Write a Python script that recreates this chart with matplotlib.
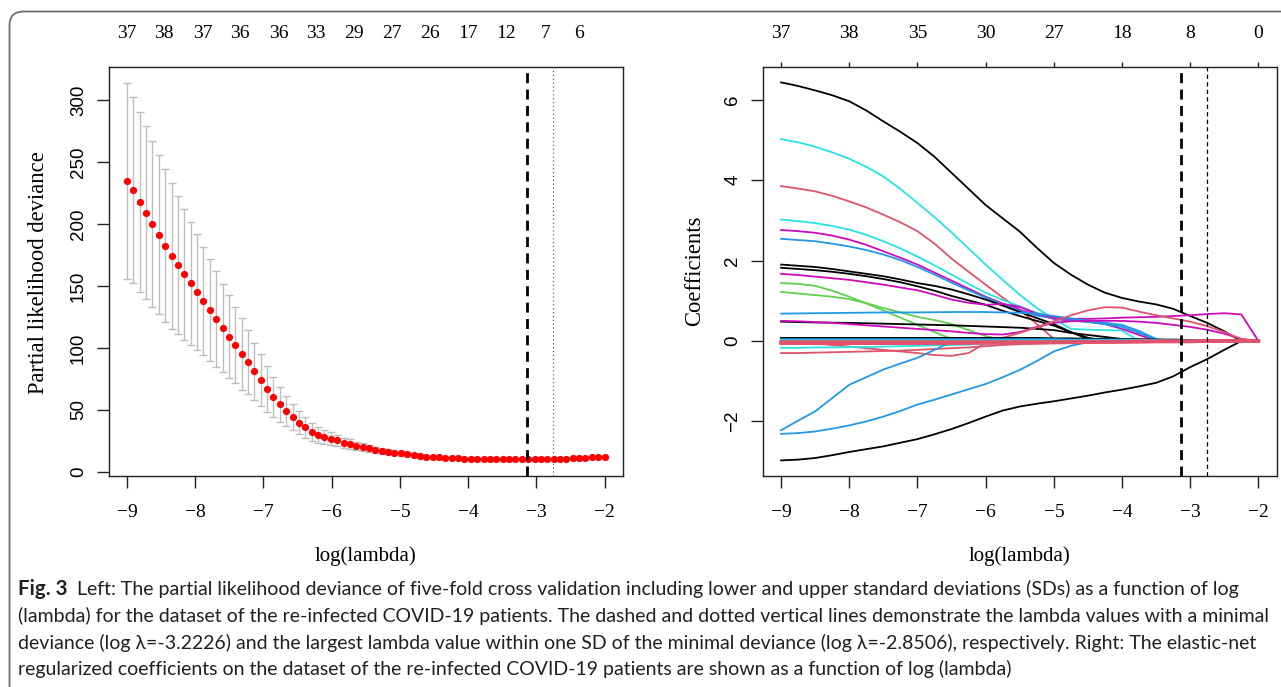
import numpy as np
import matplotlib
matplotlib.use("Agg")
import matplotlib.pyplot as plt
from matplotlib.patches import FancyBboxPatch
from matplotlib.transforms import IdentityTransform, blended_transform_factory

W, H = 1281, 687
SERIF = ['Liberation Serif', 'DejaVu Serif']
SANS = ['Liberation Sans', 'DejaVu Sans']
CAPF = ['Lato', 'DejaVu Sans']

# ---------------- data: left panel (cross-validation) ----------------
log_lambda = np.linspace(-9, -2, 76)
cv_mean = [234.9, 227.1, 218.0, 209.0, 200.2, 191.3, 182.4, 174.3, 166.8, 159.3,
           152.0, 145.0, 137.8, 130.5, 123.2, 116.0, 109.0, 102.3, 95.0, 88.5,
           81.3, 74.0, 67.0, 60.5, 54.4, 49.0, 44.1, 39.6, 35.8, 32.0,
           29.5, 27.8, 26.6, 25.3, 23.4, 22.4, 20.7, 19.9, 18.9, 17.8,
           17.0, 16.1, 15.3, 14.8, 14.0, 13.5, 12.7, 12.1, 11.8, 11.5,
           11.2, 11.0, 10.8, 10.6, 10.5, 10.4, 10.3, 10.2, 10.1, 10.0,
           10.0, 9.9, 9.9, 9.9, 9.9, 10.0, 10.1, 10.3, 10.5, 10.6,
           10.8, 11.0, 11.3, 11.5, 11.7, 11.9]
cv_sd = [79.0, 75.1, 72.6, 69.8, 67.0, 64.3, 61.9, 59.0, 55.7, 52.7,
         49.8, 47.1, 43.8, 41.4, 39.0, 35.7, 33.4, 30.6, 28.8, 25.9,
         23.0, 21.0, 18.5, 16.2, 14.0, 12.0, 10.5, 9.2, 8.2, 7.3,
         6.5, 5.8, 5.2, 4.6, 4.1, 3.7, 3.3, 3.0, 2.7, 2.5,
         2.3, 2.1, 1.9, 1.8, 1.6, 1.5, 1.4, 1.3, 1.2, 1.1,
         1.0, 1.0, 0.9, 0.9, 0.9, 0.8, 0.8, 0.8, 0.8, 0.8,
         0.8, 0.8, 0.8, 0.8, 0.8, 0.8, 0.8, 0.8, 0.8, 0.8,
         0.8, 0.8, 0.8, 0.8, 0.8, 0.8]
top_left_pos = [-9.0, -8.46, -7.89, -7.34, -6.78, -6.23, -5.68, -5.12, -4.56,
                -4.0, -3.44, -2.86, -2.38]
top_left_lab = ['37', '38', '37', '36', '36', '33', '29', '27', '26', '17', '12', '7', '6']
log_lambda_min = -3.13
log_lambda_1se = -2.75

# ---------------- data: right panel (coefficient paths) ----------------
path_x = [-9, -8.75, -8.5, -8.25, -8, -7.75, -7.5, -7.25, -7, -6.75, -6.5, -6.25, -6, -5.75,
          -5.5, -5.25, -5, -4.75, -4.5, -4.25, -4, -3.75, -3.5, -3.25, -3, -2.75, -2.5, -2.25, -2]
c01 = [6.43, 6.34, 6.23, 6.11, 5.96, 5.73, 5.46, 5.20, 4.92, 4.58, 4.18, 3.78, 3.38, 3.05,
       2.72, 2.32, 1.94, 1.65, 1.40, 1.20, 1.07, 0.98, 0.91, 0.80, 0.62, 0.45, 0.24, 0.0, 0.0]
c02 = [5.02, 4.94, 4.83, 4.69, 4.53, 4.33, 4.09, 3.78, 3.43, 3.08, 2.70, 2.30, 1.90, 1.52,
       1.15, 0.82, 0.55, 0.30, 0.28, 0.27, 0.26, 0.0, 0.0, 0.0, 0.0, 0.0, 0.0, 0.0, 0.0]
c03 = [3.85, 3.79, 3.72, 3.61, 3.47, 3.32, 3.14, 2.95, 2.73, 2.42, 2.05, 1.72, 1.40, 1.08,
       0.78, 0.42, 0.05, 0.0, 0.0, 0.0, 0.0, 0.0, 0.0, 0.0, 0.0, 0.0, 0.0, 0.0, 0.0]
c04 = [3.02, 2.98, 2.93, 2.86, 2.77, 2.64, 2.48, 2.30, 2.10, 1.88, 1.65, 1.42, 1.20, 1.02,
       0.86, 0.70, 0.60, 0.56, 0.52, 0.45, 0.36, 0.20, 0.0, 0.0, 0.0, 0.0, 0.0, 0.0, 0.0]
c05 = [2.76, 2.73, 2.69, 2.62, 2.52, 2.39, 2.23, 2.07, 1.90, 1.70, 1.50, 1.30, 1.10, 0.93,
       0.78, 0.65, 0.55, 0.50, 0.48, 0.42, 0.30, 0.15, 0.0, 0.0, 0.0, 0.0, 0.0, 0.0, 0.0]
c06 = [2.54, 2.51, 2.48, 2.42, 2.35, 2.26, 2.15, 2.01, 1.84, 1.65, 1.45, 1.26, 1.08, 0.90,
       0.75, 0.63, 0.57, 0.52, 0.47, 0.42, 0.35, 0.20, 0.03, 0.0, 0.0, 0.0, 0.0, 0.0, 0.0]
c07 = [1.90, 1.87, 1.84, 1.79, 1.73, 1.67, 1.61, 1.53, 1.44, 1.37, 1.28, 1.16, 1.03, 0.88,
       0.72, 0.57, 0.42, 0.22, 0.05, 0.0, 0.0, 0.0, 0.0, 0.0, 0.0, 0.0, 0.0, 0.0, 0.0]
c08 = [1.82, 1.79, 1.76, 1.72, 1.67, 1.61, 1.54, 1.46, 1.36, 1.25, 1.12, 1.01, 0.90, 0.75,
       0.62, 0.50, 0.38, 0.22, 0.08, 0.0, 0.0, 0.0, 0.0, 0.0, 0.0, 0.0, 0.0, 0.0, 0.0]
c09 = [1.67, 1.64, 1.60, 1.56, 1.52, 1.46, 1.40, 1.33, 1.26, 1.15, 1.03, 0.95, 0.90, 0.92,
       0.85, 0.68, 0.58, 0.55, 0.55, 0.56, 0.58, 0.59, 0.60, 0.62, 0.64, 0.67, 0.69, 0.66, 0.0]
c10 = [1.44, 1.42, 1.37, 1.25, 1.10, 0.93, 0.76, 0.58, 0.40, 0.22, 0.05, 0.0, 0.0, 0.0,
       0.0, 0.0, 0.0, 0.0, 0.0, 0.0, 0.0, 0.0, 0.0, 0.0, 0.0, 0.0, 0.0, 0.0, 0.0]
c11 = [1.22, 1.18, 1.14, 1.10, 1.04, 0.94, 0.82, 0.71, 0.60, 0.52, 0.42, 0.27, 0.12, 0.03,
       0.0, 0.0, 0.0, 0.0, 0.0, 0.0, 0.0, 0.0, 0.0, 0.0, 0.0, 0.0, 0.0, 0.0, 0.0]
c12 = [0.68, 0.685, 0.69, 0.695, 0.70, 0.705, 0.71, 0.71, 0.71, 0.715, 0.72, 0.72, 0.72, 0.71,
       0.70, 0.68, 0.62, 0.56, 0.50, 0.45, 0.40, 0.25, 0.05, 0.0, 0.0, 0.0, 0.0, 0.0, 0.0]
c13 = [0.48, 0.47, 0.46, 0.455, 0.45, 0.44, 0.43, 0.42, 0.41, 0.40, 0.39, 0.375, 0.36, 0.345,
       0.33, 0.30, 0.27, 0.20, 0.15, 0.10, 0.05, 0.02, 0.0, 0.0, 0.0, 0.0, 0.0, 0.0, 0.0]
c14 = [0.50, 0.49, 0.47, 0.45, 0.42, 0.39, 0.36, 0.33, 0.30, 0.27, 0.24, 0.20, 0.17, 0.16,
       0.22, 0.35, 0.45, 0.49, 0.50, 0.50, 0.50, 0.48, 0.45, 0.40, 0.35, 0.28, 0.18, 0.05, 0.0]
c15 = [-0.02, -0.04, -0.06, -0.10, -0.14, -0.18, -0.22, -0.26, -0.30, -0.35, -0.37, -0.30, -0.05, 0.08,
       0.20, 0.34, 0.49, 0.64, 0.76, 0.84, 0.83, 0.73, 0.64, 0.56, 0.48, 0.37, 0.22, 0.05, 0.0]
c16 = [-0.30, -0.30, -0.29, -0.28, -0.27, -0.26, -0.25, -0.24, -0.22, -0.20, -0.18, -0.16, -0.13, -0.10,
       -0.08, -0.06, -0.05, -0.03, -0.02, 0.0, 0.0, 0.0, 0.0, 0.0, 0.0, 0.0, 0.0, 0.0, 0.0]
c17 = [-0.17, -0.17, -0.16, -0.16, -0.15, -0.15, -0.14, -0.13, -0.12, -0.11, -0.10, -0.09, -0.07, -0.05,
       -0.04, -0.03, -0.02, 0.0, 0.0, 0.0, 0.0, 0.0, 0.0, 0.0, 0.0, 0.0, 0.0, 0.0, 0.0]
c18 = [-2.22, -1.98, -1.75, -1.42, -1.09, -0.90, -0.71, -0.56, -0.42, -0.22, -0.02, 0.0, 0.0, 0.0,
       0.0, 0.0, 0.0, 0.0, 0.0, 0.0, 0.0, 0.0, 0.0, 0.0, 0.0, 0.0, 0.0, 0.0, 0.0]
c19 = [-2.31, -2.29, -2.25, -2.18, -2.10, -2.00, -1.88, -1.74, -1.58, -1.46, -1.33, -1.20, -1.07, -0.90,
       -0.72, -0.50, -0.26, -0.12, -0.03, 0.0, 0.0, 0.0, 0.0, 0.0, 0.0, 0.0, 0.0, 0.0, 0.0]
c20 = [-2.97, -2.95, -2.91, -2.84, -2.76, -2.69, -2.62, -2.53, -2.44, -2.32, -2.19, -2.04, -1.88, -1.73,
       -1.63, -1.56, -1.50, -1.43, -1.36, -1.28, -1.21, -1.13, -1.04, -0.88, -0.65, -0.45, -0.22, 0.0, 0.0]
z1 = [0.07, 0.07, 0.07, 0.07, 0.07, 0.07, 0.07, 0.07, 0.07, 0.07, 0.07, 0.07, 0.07, 0.07,
      0.07, 0.07, 0.06, 0.06, 0.05, 0.05, 0.04, 0.04, 0.03, 0.03, 0.02, 0.01, 0.01, 0.0, 0.0]
z2 = [0.04, 0.04, 0.04, 0.04, 0.04, 0.04, 0.04, 0.04, 0.04, 0.04, 0.04, 0.04, 0.04, 0.04,
      0.04, 0.04, 0.04, 0.03, 0.03, 0.03, 0.03, 0.02, 0.02, 0.01, 0.01, 0.01, 0.0, 0.0, 0.0]
z3 = [0.01, 0.01, 0.01, 0.01, 0.01, 0.01, 0.01, 0.01, 0.01, 0.01, 0.01, 0.01, 0.01, 0.01,
      0.01, 0.01, 0.01, 0.01, 0.01, 0.01, 0.01, 0.01, 0.01, 0.0, 0.0, 0.0, 0.0, 0.0, 0.0]
z4 = [-0.025, -0.025, -0.025, -0.025, -0.025, -0.025, -0.025, -0.025, -0.025, -0.025, -0.025, -0.025, -0.025, -0.025,
      -0.025, -0.025, -0.025, -0.02, -0.02, -0.02, -0.02, -0.015, -0.01, -0.01, -0.01, 0.0, 0.0, 0.0, 0.0]
z5 = [-0.055, -0.055, -0.055, -0.055, -0.055, -0.055, -0.055, -0.055, -0.055, -0.055, -0.055, -0.05, -0.05, -0.05,
      -0.05, -0.045, -0.04, -0.035, -0.03, -0.025, -0.02, -0.015, -0.01, -0.01, -0.01, 0.0, 0.0, 0.0, 0.0]
top_right_pos = [-9, -8, -7, -6, -5, -4, -3, -2]
top_right_lab = ['37', '38', '35', '30', '27', '18', '8', '0']

BLACK, RED, GREEN, BLUE, CYAN, MAG = '#000000', '#DF536B', '#61D04F', '#2297E6', '#28E2E5', '#CD0BBC'
paths = [(c01, BLACK), (c02, CYAN), (c03, RED), (c04, CYAN), (c05, MAG), (c06, BLUE),
         (c07, BLACK), (c08, BLACK), (c09, MAG), (c10, GREEN), (c11, GREEN), (c12, BLUE),
         (c13, BLACK), (c14, MAG), (c15, RED), (c16, RED), (c17, CYAN), (c18, BLUE),
         (c19, BLUE), (c20, BLACK)]
zero_paths = [(z1, BLACK, 1.6), (z2, BLUE, 1.6), (z3, CYAN, 1.6), (z4, RED, 2.6), (z5, RED, 2.6)]

# ---------------- figure ----------------
fig = plt.figure(figsize=(W / 100, H / 100), dpi=100)
fig.patch.set_facecolor('white')

border = FancyBboxPatch((9.5, -40), 1400, 687 - 11.5 + 40,
                        boxstyle="round,pad=0,rounding_size=14",
                        transform=IdentityTransform(), fill=False,
                        edgecolor='#6e6e6e', linewidth=1.3)
fig.patches.append(border)

AX_BOTTOM = 1 - 475.7 / H
AX_H = 409 / H
ax1 = fig.add_axes([108.6 / W, AX_BOTTOM, 514.4 / W, AX_H])
ax2 = fig.add_axes([762.7 / W, AX_BOTTOM, 514.1 / W, AX_H])


def style_axes(ax):
    for s in ax.spines.values():
        s.set_linewidth(1.0)
        s.set_color('#222222')
    ax.tick_params(axis='both', direction='out', length=8.5, width=1.0, color='#222222')
    ax.tick_params(axis='x', pad=12, labelsize=14)
    ax.tick_params(axis='y', pad=7, labelsize=13.5)
    ax.set_xlim(-9.27, -1.73)
    ax.set_xticks([-9, -8, -7, -6, -5, -4, -3, -2])
    ax.set_xticklabels(['\u22129', '\u22128', '\u22127', '\u22126', '\u22125', '\u22124', '\u22123', '\u22122'],
                       family=SERIF)


# ---- left panel ----
style_axes(ax1)
ax1.set_ylim(-3.2, 326.9)
ax1.errorbar(log_lambda, cv_mean, yerr=cv_sd, fmt='none', ecolor='#bdbdbd',
             elinewidth=1.0, capsize=2.9, capthick=1.0, zorder=2)
ax1.plot(log_lambda, cv_mean, 'o', color='#ff0000', ms=5.2, mec='none', zorder=3)
ax1.axvline(log_lambda_min, color='black', lw=2.0, ls=(0, (3.6, 2.3)), zorder=4)
ax1.axvline(log_lambda_1se, color='#444444', lw=0.8, ls=(0, (1, 2.5)), zorder=4)
ax1.set_yticks([0, 50, 100, 150, 200, 250, 300])
ax1.set_yticklabels(['0', '50', '100', '150', '200', '250', '300'], rotation=90,
                    va='center', family=SANS)
tl = blended_transform_factory(ax1.transData, fig.transFigure)
for p, lab in zip(top_left_pos, top_left_lab):
    ax1.text(p, 1 - 33 / H, lab, transform=tl, ha='center', va='center',
             fontsize=14, family=SERIF, clip_on=False)

# ---- right panel ----
style_axes(ax2)
ax2.set_ylim(-3.35, 6.82)
for ys, col in paths:
    ax2.plot(path_x, ys, color=col, lw=1.3, solid_joinstyle='round', zorder=2)
for ys, col, lw in zero_paths:
    ax2.plot(path_x, ys, color=col, lw=lw, zorder=3)
ax2.axvline(log_lambda_min, color='black', lw=2.0, ls=(0, (3.6, 2.3)), zorder=4)
ax2.axvline(log_lambda_1se, color='black', lw=0.9, ls=(0, (3.5, 2.5)), zorder=4)
ax2.set_yticks([-2, 0, 2, 4, 6])
ax2.set_yticklabels(['\u22122', '0', '2', '4', '6'], rotation=90, va='center', family=SANS)
sec = ax2.secondary_xaxis('top')
sec.set_xticks(top_right_pos)
sec.set_xticklabels([])
sec.tick_params(direction='out', length=3.5, width=1.0, color='#222222')
sec.spines['top'].set_visible(False)
tr = blended_transform_factory(ax2.transData, fig.transFigure)
for p, lab in zip(top_right_pos, top_right_lab):
    ax2.text(p, 1 - 33 / H, lab, transform=tr, ha='center', va='center',
             fontsize=14, family=SERIF, clip_on=False)

# ---- axis titles ----
fig.text(365.8 / W, 1 - 556 / H, 'log(lambda)', ha='center', va='center', fontsize=15, family=SERIF)
fig.text(1019.7 / W, 1 - 556 / H, 'log(lambda)', ha='center', va='center', fontsize=15, family=SERIF)
fig.text(39 / W, 1 - 273 / H, 'Partial likelihood deviance', ha='center', va='center',
         rotation=90, fontsize=16.3, family=SERIF)
fig.text(695 / W, 1 - 271 / H, 'Coefficients', ha='center', va='center',
         rotation=90, fontsize=16.3, family=SERIF)

# ---- caption ----
cap_lines = [
    'Left: The partial likelihood deviance of five-fold cross validation including lower and upper standard deviations (SDs) as a function of log',
    '(lambda) for the dataset of the re-infected COVID-19 patients. The dashed and dotted vertical lines demonstrate the lambda values with a minimal',
    'deviance (log \u03bb=-3.2226) and the largest lambda value within one SD of the minimal deviance (log \u03bb=-2.8506), respectively. Right: The elastic-net',
    'regularized coefficients on the dataset of the re-infected COVID-19 patients are shown as a function of log (lambda)',
]
cap_y = [589, 616, 643, 669]
renderer = fig.canvas.get_renderer()
probe = fig.text(18 / W, 1 - cap_y[1] / H, cap_lines[1], fontsize=12, family=CAPF, va='center',
                 color='#231f20')
wpx = probe.get_window_extent(renderer).width
cap_fs = 12 * (1265 - 18) / wpx
probe.set_fontsize(cap_fs)
figlab = fig.text(18 / W, 1 - cap_y[0] / H, 'Fig. 3', fontsize=cap_fs * 1.05, family=CAPF,
                  weight='bold', va='center', color='#231f20')
wb = figlab.get_window_extent(renderer).width
fig.text((18 + wb + 9) / W, 1 - cap_y[0] / H, cap_lines[0], fontsize=cap_fs, family=CAPF,
         va='center', color='#231f20')
for ln, yy in zip(cap_lines[2:], cap_y[2:]):
    fig.text(18 / W, 1 - yy / H, ln, fontsize=cap_fs, family=CAPF, va='center', color='#231f20')

fig.savefig('out.png', dpi=100)
